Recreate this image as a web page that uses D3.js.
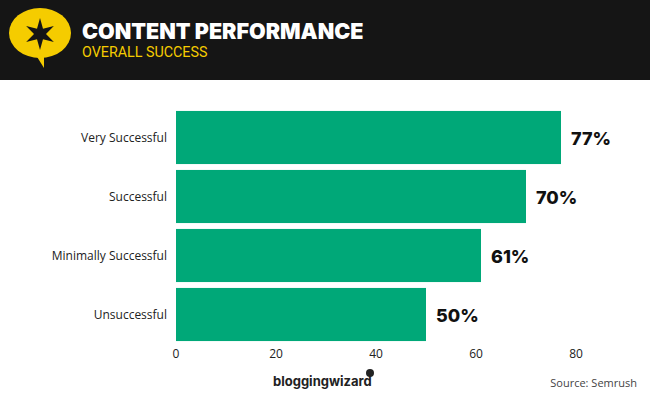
<!DOCTYPE html><html><head><meta charset="utf-8"><script src="https://cdn.jsdelivr.net/npm/d3@7"></script>
<style>body{margin:0;background:#fff}svg{display:block}</style></head><body><svg id="c" width="650" height="400"></svg>
<script>
const categories=["Very Successful","Successful","Minimally Successful","Unsuccessful"];
const values=[77,70,61,50];
const ticks=[0,20,40,60,80];
const svg=d3.select("#c");
svg.append("rect").attr("width",650).attr("height",80).attr("fill","#151515");
const g=svg.append("g");
g.append("ellipse").attr("cx",40).attr("cy",33).attr("rx",31).attr("ry",25).attr("fill","#f5cc00");
g.append("path").attr("d","M34,52 L44,56 L44,68 Z").attr("fill","#f5cc00");
const star=[];for(let i=0;i<12;i++){const r=i%2?6:16,a=-Math.PI/2+i*Math.PI/6;star.push([40+r*Math.cos(a),34+r*Math.sin(a)]);}
g.append("path").attr("d","M"+star.join("L")+"Z").attr("fill","#151515");
svg.append("text").attr("x",82).attr("y",39).text("CONTENT PERFORMANCE").attr("fill","#fff").attr("font-family","Inter,Lato").attr("font-weight",900).attr("font-size",21.5);
svg.append("text").attr("x",82).attr("y",57).text("OVERALL SUCCESS").attr("fill","#f5cc00").attr("font-family","Roboto").attr("font-size",14.3);
const x=d3.scaleLinear().domain([0,80]).range([176,576]);
const y=d3.scaleBand().domain(categories).range([108,344]).paddingInner(0.1).paddingOuter(0.05);
svg.selectAll(".b").data(values).join("rect").attr("x",x(0)).attr("y",(d,i)=>y(categories[i])).attr("width",d=>x(d)-x(0)).attr("height",y.bandwidth()).attr("fill","#00a878");
svg.selectAll(".v").data(values).join("text").attr("x",d=>x(d)+10).attr("y",(d,i)=>y(categories[i])+y.bandwidth()/2+7).text(d=>d+"%").attr("font-family","Inter,Lato").attr("font-weight",800).attr("font-size",18).attr("fill","#111");
svg.selectAll(".c").data(categories).join("text").attr("x",167).attr("y",d=>y(d)+y.bandwidth()/2+4).attr("text-anchor","end").text(d=>d).attr("font-family","Open Sans").attr("font-size",12).attr("fill","#222");
svg.selectAll(".t").data(ticks).join("text").attr("x",d=>x(d)).attr("y",358).attr("text-anchor","middle").text(d=>d).attr("font-family","Open Sans").attr("font-size",12).attr("fill","#222");
svg.append("text").attr("x",273).attr("y",386).text("bloggingwizard").attr("font-family","Inter").attr("font-weight",700).attr("font-size",13).attr("fill","#222");
svg.append("circle").attr("cx",370).attr("cy",373).attr("r",4).attr("fill","#222");
svg.append("text").attr("x",637).attr("y",387).attr("text-anchor","end").text("Source: Semrush").attr("font-family","Open Sans").attr("font-size",11).attr("fill","#444");
</script></body></html>
